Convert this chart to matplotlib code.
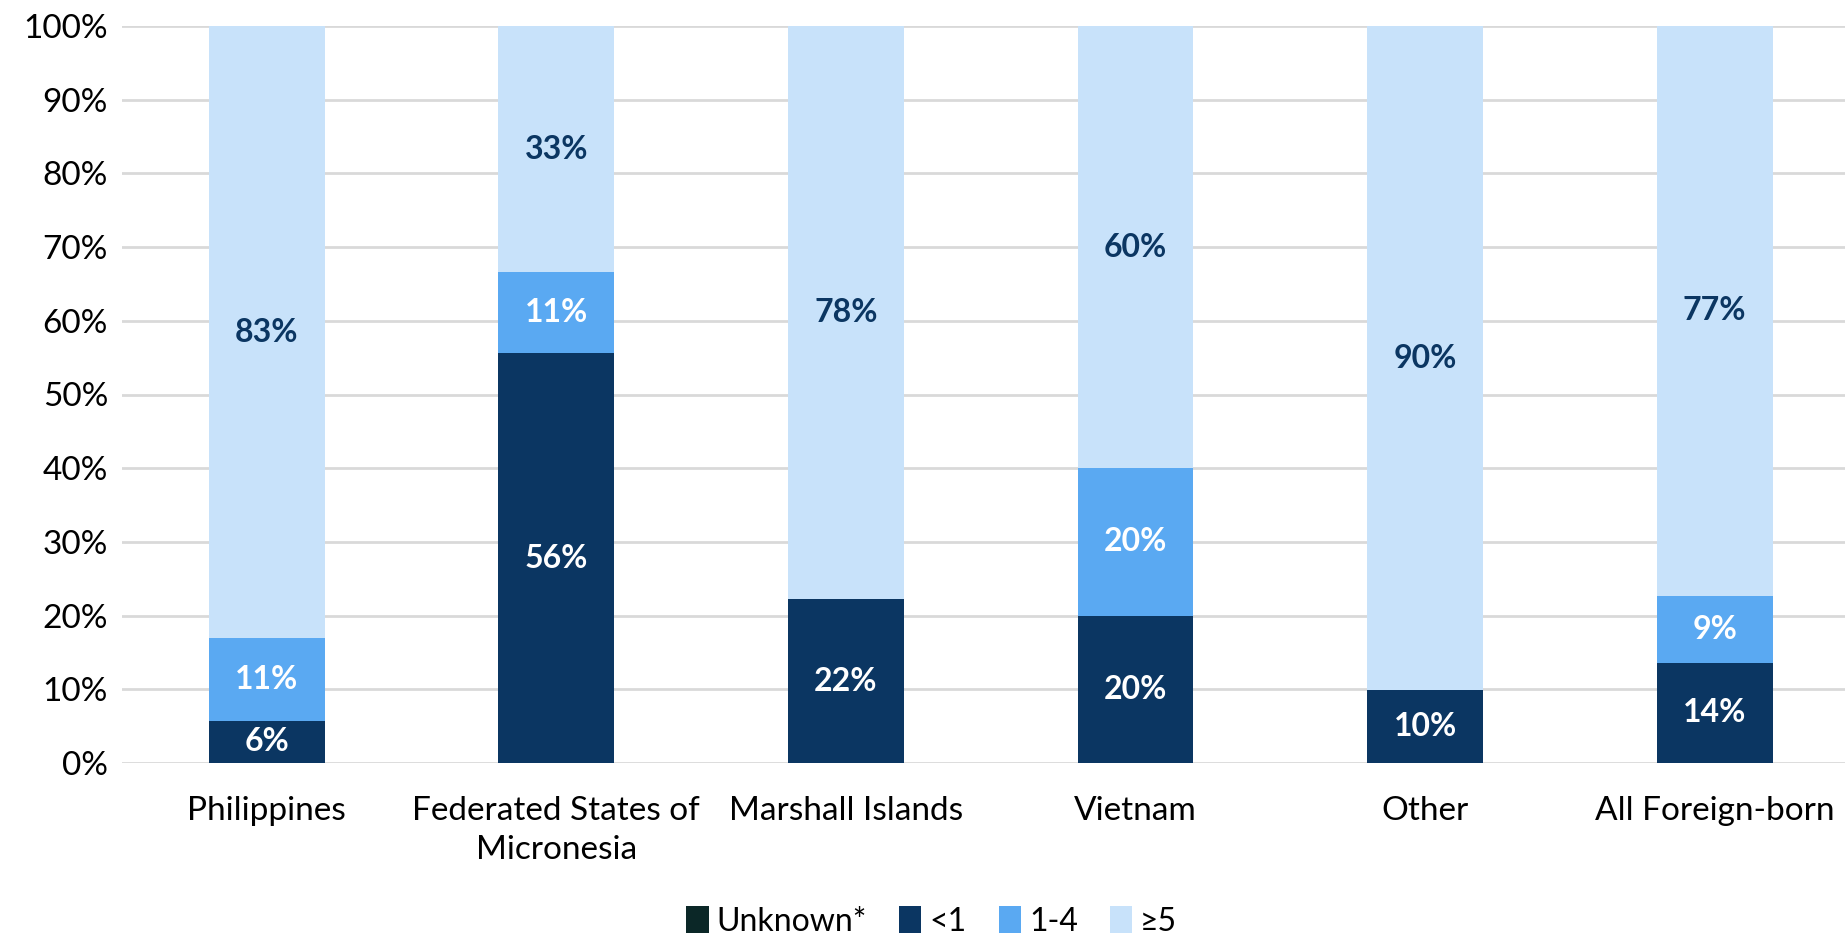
import matplotlib
matplotlib.use("Agg")
import matplotlib.pyplot as plt
import numpy as np

plt.rcParams['font.family'] = ['Lato', 'DejaVu Sans']

categories = ["Philippines", "Federated States of\nMicronesia", "Marshall Islands",
              "Vietnam", "Other", "All Foreign-born"]
series_names = ["Unknown*", "<1", "1-4", "\u22655"]
unknown = [0, 0, 0, 0, 0, 0]
lt1 = [5.7, 55.6, 22.2, 20.0, 9.9, 13.6]
one_four = [11.2, 11.0, 0, 20.0, 0, 9.1]
ge5 = [83.1, 33.4, 77.8, 60.0, 90.1, 77.3]

colors = ["#0b2727", "#0b3662", "#5aa9f2", "#c8e2fa"]
label_colors = ["white", "white", "white", "#0b3662"]

fig = plt.figure(figsize=(18.45, 9.34), dpi=100)
ax = fig.add_axes([122 / 1845, 1 - 763 / 934, 1 - 122 / 1845, (763 - 26) / 934])

x = np.arange(len(categories))
bottom = np.zeros(len(categories))
for name, vals, c, lc in zip(series_names, [unknown, lt1, one_four, ge5], colors, label_colors):
    vals = np.array(vals, dtype=float)
    ax.bar(x, vals, 0.4, bottom=bottom, color=c, label=name, zorder=3)
    for xi, v, b in zip(x, vals, bottom):
        if v > 0:
            ax.text(xi, b + v / 2, f"{round(v):.0f}%", ha="center", va="center",
                    color=lc, fontsize=23, fontweight="bold", zorder=4)
    bottom += vals

ax.set_xlim(-0.5, 5.45)
ax.set_ylim(0, 100)
ax.set_yticks(np.arange(0, 101, 10))
ax.set_yticklabels([f"{t}%" for t in range(0, 101, 10)])
ax.yaxis.grid(True, color="#d9d9d9", linewidth=2, zorder=0)
ax.set_xticks(x)
ax.set_xticklabels(categories, linespacing=1.35)
ax.tick_params(axis="both", length=0, labelsize=24, colors="black")
ax.tick_params(axis="x", pad=24)
ax.tick_params(axis="y", pad=10)
for s in ax.spines.values():
    s.set_visible(False)

ax.legend(loc="center", bbox_to_anchor=(0.47, -0.215), ncol=4, frameon=False,
          fontsize=23, handlelength=0.7, handleheight=0.9, handletextpad=0.25,
          columnspacing=1.0)

fig.savefig("out.png", dpi=100)
